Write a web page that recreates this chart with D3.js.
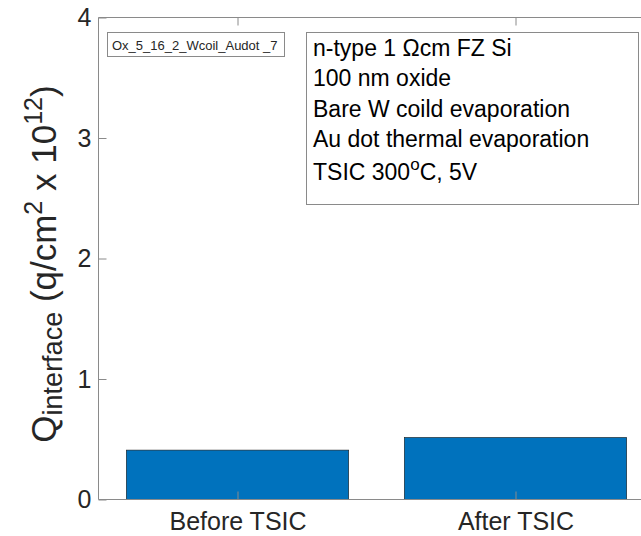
<!DOCTYPE html>
<html>
<head>
<meta charset="utf-8">
<script src="https://cdn.jsdelivr.net/npm/d3@7"></script>
<style>
  html, body { margin: 0; padding: 0; background: #fff; }
  svg { display: block; font-family: "Liberation Sans", Arial, Helvetica, sans-serif; }
</style>
</head>
<body>
<svg id="chart" width="641" height="536"></svg>
<script>
// Interface charge before and after the TSIC step
const categories = ["Before TSIC", "After TSIC"];
const qInterface = [0.41, 0.515];
const yTicks = [0, 1, 2, 3, 4];
const sampleId = "Ox_5_16_2_Wcoil_Audot _7";
const notes = [
  "n-type 1 \u03A9cm FZ Si",
  "100 nm oxide",
  "Bare W coild evaporation",
  "Au dot thermal evaporation"
];

const svg = d3.select("#chart");
const plotL = 98.5, plotT = 17.5, plotR = 654.5, plotB = 499.5;
const axisColor = "#8a8a8a";
const textColor = "#262626";
const tickFont = 25;

const x = d3.scaleLinear().domain([0.5, 2.5]).range([plotL, plotR]);
const y = d3.scaleLinear().domain([0, 4]).range([plotB, plotT]);
const barW = 0.8;

// bars
svg.append("g").selectAll("rect")
  .data(qInterface)
  .join("rect")
  .attr("x", (d, i) => x(i + 1 - barW / 2))
  .attr("width", (d, i) => x(i + 1 + barW / 2) - x(i + 1 - barW / 2))
  .attr("y", d => y(d))
  .attr("height", d => y(0) - y(d))
  .attr("fill", "#0072BD")
  .attr("stroke", "#1a1a1a")
  .attr("stroke-width", 0.6);

// axes (box on, ticks pointing inward)
const tickLen = 8;
const yAxis = d3.axisLeft(y).tickValues(yTicks).tickSize(-tickLen).tickPadding(7).tickFormat(d3.format("d"));
const gy = svg.append("g").attr("transform", `translate(${plotL},0)`).call(yAxis);
const xAxis = d3.axisBottom(x).tickValues([1, 2]).tickSize(-tickLen).tickPadding(13)
  .tickFormat(d => categories[d - 1]);
const gx = svg.append("g").attr("transform", `translate(0,${plotB})`).call(xAxis);
const xTop = d3.axisTop(x).tickValues([1, 2]).tickSize(-tickLen).tickFormat("");
const gt = svg.append("g").attr("transform", `translate(0,${plotT})`).call(xTop);

[gy, gx, gt].forEach(g => {
  g.select(".domain").attr("stroke", axisColor).attr("stroke-width", 1);
  g.selectAll(".tick line").attr("stroke", axisColor);
  g.selectAll(".tick text").attr("fill", textColor).attr("font-size", tickFont)
    .attr("font-family", "Liberation Sans, Arial, sans-serif");
});
gy.select(".domain").attr("d", `M0,${plotT}V${plotB}`);
gx.select(".domain").attr("d", `M${plotL},0H${plotR}`);
gt.select(".domain").attr("d", `M${plotL},0H${plotR}`);

// y-axis title
const yl = svg.append("text")
  .attr("transform", `translate(56,264) rotate(-90)`)
  .attr("text-anchor", "middle")
  .attr("fill", textColor)
  .attr("font-size", 35);
yl.append("tspan").text("Q");
yl.append("tspan").attr("font-size", 27).attr("dy", 6).text("interface");
yl.append("tspan").attr("dy", -6).text("\u00A0(q/cm");
yl.append("tspan").attr("font-size", 25).attr("dy", -14).text("2");
yl.append("tspan").attr("dy", 14).text(" x 10");
yl.append("tspan").attr("font-size", 25).attr("dy", -14).text("12");
yl.append("tspan").attr("dy", 14).text(")");

// sample id box
const idG = svg.append("g");
idG.append("rect").attr("x", 107.5).attr("y", 32.5).attr("width", 177).attr("height", 24)
  .attr("fill", "#fff").attr("stroke", axisColor);
idG.append("text").attr("x", 112).attr("y", 49.5).attr("font-size", 13).attr("fill", textColor)
  .text(sampleId);

// notes box
const nG = svg.append("g");
nG.append("rect").attr("x", 306.5).attr("y", 32.5).attr("width", 332).attr("height", 172)
  .attr("fill", "#fff").attr("stroke", axisColor);
nG.selectAll("text.note").data(notes).join("text").attr("class", "note")
  .attr("x", 313).attr("y", (d, i) => 56 + i * 30.3)
  .attr("font-size", 23).attr("fill", "#000").text(d => d);
const last = nG.append("text").attr("x", 313).attr("y", 180).attr("font-size", 23).attr("fill", "#000");
last.append("tspan").text("TSIC 300");
last.append("tspan").attr("font-size", 17).attr("dy", -10).text("o");
last.append("tspan").attr("dy", 10).text("C, 5V");
</script>
</body>
</html>
